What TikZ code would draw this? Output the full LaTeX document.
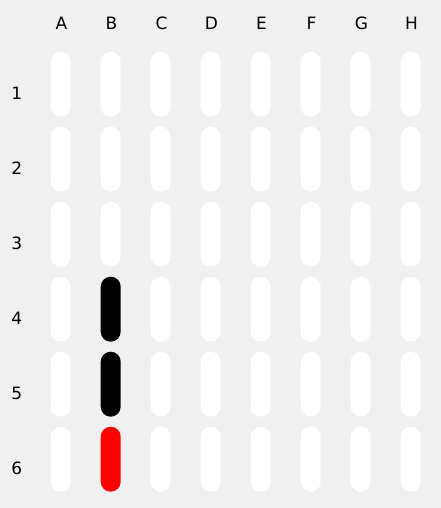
\documentclass[tikz,border=0pt]{standalone}
\usepackage{fontspec}
\setmainfont{DejaVu Sans}
\definecolor{formGray}{RGB}{240,240,240}
\definecolor{pegRed}{RGB}{255,0,0}

\begin{document}
\begin{tikzpicture}[
        x=1pt,
        y=-1pt,
        slotBase/.style={
            rectangle,
            rounded corners=10pt,
            minimum width=20pt,
            minimum height=65pt,
            inner sep=0pt,
            fill=white
        },
        slotState/B4/.style={fill=black},
        slotState/B5/.style={fill=black},
        slotState/B6/.style={fill=pegRed},
        headLabel/.style={font=\fontsize{17}{17}\selectfont, inner sep=0pt}
    ]
        \fill[formGray] (0,0) rectangle (441,508);
        \useasboundingbox (0,0) rectangle (441,508);

        % column letters
        \foreach \col [count=\i from 0] in {A,B,C,D,E,F,G,H} {
            \node[headLabel] (head\col) at (61.5+50*\i,23.7) {\col};
        }

        % row numbers and the slots of each row
        \foreach \row in {1,...,6} {
            \node[headLabel] (row\row) at (16.7,93+75*\row-75) {\row};
            \foreach \col [count=\i from 0] in {A,B,C,D,E,F,G,H} {
                \node[slotBase, slotState/\col\row/.try] (slot\col\row)
                    at (60.7+50*\i,84.2+75*\row-75) {};
            }
        }
    \end{tikzpicture}
\end{document}
